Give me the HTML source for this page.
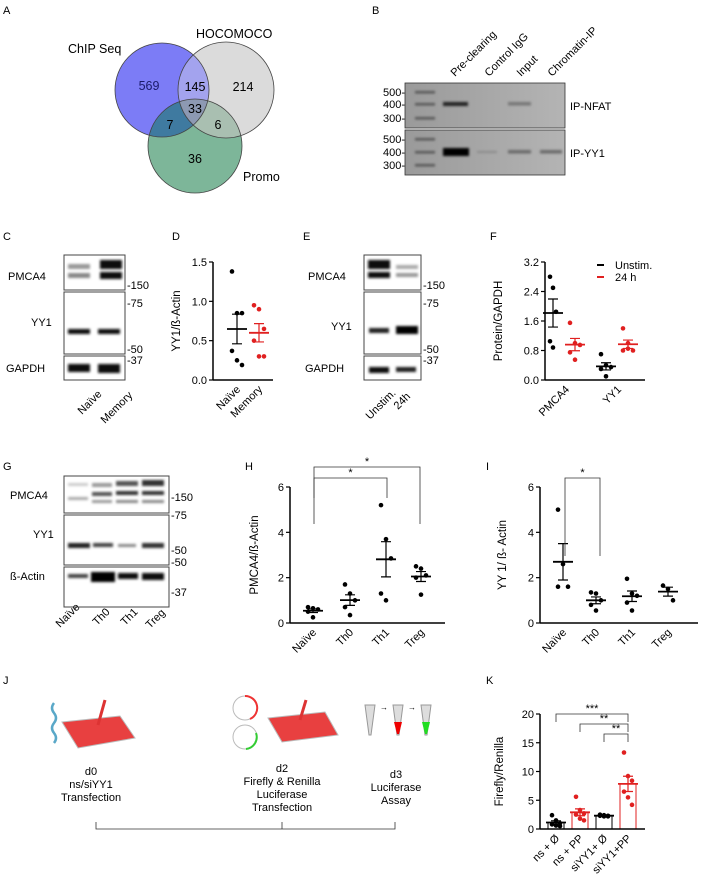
<!DOCTYPE html>
<html><head><meta charset="utf-8"><style>
body{margin:0;background:#fff}
svg{display:block;font-family:"Liberation Sans",sans-serif}
</style></head><body>
<svg id="fig" width="701" height="886" viewBox="0 0 701 886" xmlns="http://www.w3.org/2000/svg">
<defs>
<linearGradient id="gel" x1="0" x2="1"><stop offset="0" stop-color="#9a9a9a"/><stop offset="1" stop-color="#b4b4b4"/></linearGradient>
<filter id="blur1"><feGaussianBlur stdDeviation="1.2"/></filter>
<filter id="blur2"><feGaussianBlur stdDeviation="2"/></filter>
</defs>
<g font-size="11" fill="#000">
<!-- Panel letters -->
<text x="3" y="14">A</text>
<text x="372" y="14">B</text>
<text x="3" y="240">C</text>
<text x="172" y="240">D</text>
<text x="303" y="240">E</text>
<text x="490" y="240">F</text>
<text x="3" y="470">G</text>
<text x="245" y="470">H</text>
<text x="486" y="470">I</text>
<text x="3" y="684">J</text>
<text x="486" y="684">K</text>
</g>

<!-- Panel A Venn -->
<g>
<circle cx="162" cy="90" r="47" fill="#7c7cf6"/>
<circle cx="226" cy="90" r="48" fill="#d9d9d9" fill-opacity="0.95"/>
<g clip-path="url(#cA)"></g>
<circle cx="195" cy="146" r="47" fill="#6fae8e" fill-opacity="0.9"/>
<clipPath id="cpChip"><circle cx="162" cy="90" r="47"/></clipPath>
<clipPath id="cpHoc"><circle cx="226" cy="90" r="48"/></clipPath>
<circle cx="226" cy="90" r="48" fill="#a3a3ee" clip-path="url(#cpChip)"/>
<circle cx="195" cy="146" r="47" fill="#3f7aa0" clip-path="url(#cpChip)"/>
<circle cx="195" cy="146" r="47" fill="#a9bfb1" clip-path="url(#cpHoc)"/>
<g clip-path="url(#cpChip)"><circle cx="195" cy="146" r="47" fill="#8d99b3" clip-path="url(#cpHoc)"/></g>
<circle cx="162" cy="90" r="47" fill="none" stroke="#444" stroke-width="0.8"/>
<circle cx="226" cy="90" r="48" fill="none" stroke="#444" stroke-width="0.8"/>
<circle cx="195" cy="146" r="47" fill="none" stroke="#444" stroke-width="0.8"/>
<g font-size="12.5" text-anchor="middle">
<text x="149" y="90" fill="#1a1a6a">569</text><text x="195" y="91">145</text><text x="243" y="91">214</text>
<text x="195" y="113">33</text><text x="170" y="129">7</text><text x="218" y="129">6</text><text x="195" y="163">36</text>
</g>
<g font-size="12.5">
<text x="68" y="53">ChIP Seq</text>
<text x="196" y="38">HOCOMOCO</text>
<text x="243" y="181">Promo</text>
</g>
</g>

<!-- Panel B gel -->
<g>
<rect x="405" y="83" width="160" height="45" fill="url(#gel)" stroke="#333" stroke-width="0.8"/>
<rect x="405" y="130" width="160" height="45" fill="url(#gel)" stroke="#333" stroke-width="0.8"/>
<g fill="#555" filter="url(#blur1)">
<rect x="415" y="91" width="20" height="2.5"/><rect x="415" y="103" width="20" height="2.5"/><rect x="415" y="117" width="20" height="2.5"/>
<rect x="415" y="138" width="20" height="2.5"/><rect x="415" y="151" width="20" height="2.5"/><rect x="415" y="164" width="20" height="2.5"/>
<rect x="443" y="102" width="25" height="4" fill="#222"/><rect x="508" y="102" width="23" height="3.5" fill="#777"/>
<rect x="443" y="148" width="26" height="8" fill="#000"/><rect x="477" y="151" width="20" height="2" fill="#8a8a8a"/>
<rect x="508" y="150" width="23" height="3.5" fill="#6a6a6a"/><rect x="540" y="150" width="22" height="3.5" fill="#6a6a6a"/>
</g>
<g font-size="11" text-anchor="end">
<text x="405" y="96">500-</text><text x="405" y="108">400-</text><text x="405" y="122">300-</text>
<text x="405" y="143">500-</text><text x="405" y="156">400-</text><text x="405" y="169">300-</text>
</g>
<g font-size="11">
<text x="570" y="110">IP-NFAT</text><text x="570" y="157">IP-YY1</text>
<text transform="translate(455,77) rotate(-45)">Pre-clearing</text>
<text transform="translate(489,77) rotate(-45)">Control IgG</text>
<text transform="translate(521,77) rotate(-45)">Input</text>
<text transform="translate(552,77) rotate(-45)">Chromatin-IP</text>
</g>
</g>

<!-- Blots C, E, G -->
<g font-size="11">
<!-- C -->
<rect x="64" y="255" width="61" height="35" fill="#fff" stroke="#444"/>
<rect x="64" y="292" width="61" height="62" fill="#fff" stroke="#444"/>
<rect x="64" y="356" width="61" height="24" fill="#fff" stroke="#444"/>
<g filter="url(#blur1)">
<rect x="68" y="264" width="22" height="5" fill="#999"/><rect x="68" y="273" width="22" height="5" fill="#888"/>
<rect x="100" y="260" width="22" height="9" fill="#111"/><rect x="100" y="272" width="22" height="7" fill="#111"/>
<rect x="68" y="329" width="22" height="5" fill="#111"/><rect x="98" y="329" width="22" height="5" fill="#111"/>
<rect x="68" y="364" width="22" height="8" fill="#111"/><rect x="98" y="364" width="22" height="9" fill="#111"/>
</g>
<text x="8" y="280">PMCA4</text><text x="31" y="326">YY1</text><text x="6" y="372">GAPDH</text>
<text x="127" y="289">-150</text><text x="127" y="307">-75</text><text x="127" y="353">-50</text><text x="127" y="364">-37</text>
<text transform="translate(82,415) rotate(-45)">Naïve</text><text transform="translate(105,424) rotate(-45)">Memory</text>
<!-- E -->
<rect x="364" y="255" width="57" height="35" fill="#fff" stroke="#444"/>
<rect x="364" y="292" width="57" height="62" fill="#fff" stroke="#444"/>
<rect x="364" y="356" width="57" height="24" fill="#fff" stroke="#444"/>
<g filter="url(#blur1)">
<rect x="368" y="260" width="22" height="9" fill="#111"/><rect x="368" y="272" width="22" height="6" fill="#111"/>
<rect x="396" y="265" width="22" height="4" fill="#aaa"/><rect x="396" y="273" width="22" height="4" fill="#999"/>
<rect x="369" y="328" width="20" height="5" fill="#222"/><rect x="396" y="326" width="22" height="8" fill="#000"/>
<rect x="369" y="367" width="20" height="6" fill="#111"/><rect x="396" y="367" width="20" height="5" fill="#222"/>
</g>
<text x="308" y="280">PMCA4</text><text x="331" y="330">YY1</text><text x="305" y="372">GAPDH</text>
<text x="423" y="289">-150</text><text x="423" y="307">-75</text><text x="423" y="353">-50</text><text x="423" y="364">-37</text>
<text transform="translate(370,420) rotate(-45)">Unstim.</text><text transform="translate(398,410) rotate(-45)">24h</text>
<!-- G -->
<rect x="64" y="476" width="105" height="37" fill="#fff" stroke="#444"/>
<rect x="64" y="515" width="105" height="50" fill="#fff" stroke="#444"/>
<rect x="64" y="567" width="105" height="40" fill="#fff" stroke="#444"/>
<g filter="url(#blur1)">
<rect x="68" y="483" width="20" height="3" fill="#ccc"/><rect x="68" y="497" width="20" height="3" fill="#aaa"/>
<rect x="92" y="483" width="20" height="4" fill="#999"/><rect x="92" y="492" width="20" height="4" fill="#555"/><rect x="92" y="500" width="20" height="3" fill="#999"/>
<rect x="116" y="481" width="22" height="5" fill="#555"/><rect x="116" y="491" width="22" height="4" fill="#333"/><rect x="116" y="500" width="22" height="3" fill="#888"/>
<rect x="142" y="480" width="22" height="6" fill="#333"/><rect x="142" y="491" width="22" height="4" fill="#333"/><rect x="142" y="500" width="22" height="3" fill="#888"/>
<rect x="68" y="543" width="22" height="5" fill="#222"/><rect x="93" y="543" width="20" height="4" fill="#444"/>
<rect x="118" y="544" width="18" height="3" fill="#888"/><rect x="142" y="543" width="22" height="5" fill="#333"/>
<rect x="68" y="574" width="20" height="4" fill="#444"/><rect x="91" y="572" width="24" height="10" fill="#000"/>
<rect x="118" y="573" width="20" height="6" fill="#111"/><rect x="142" y="573" width="22" height="7" fill="#111"/>
</g>
<text x="10" y="499">PMCA4</text><text x="33" y="538">YY1</text><text x="10" y="580">ß-Actin</text>
<text x="171" y="501">-150</text><text x="171" y="519">-75</text><text x="171" y="554">-50</text><text x="171" y="566">-50</text><text x="171" y="596">-37</text>
<text transform="translate(60,628) rotate(-45)">Naïve</text><text transform="translate(97,626) rotate(-45)">Th0</text>
<text transform="translate(125,626) rotate(-45)">Th1</text><text transform="translate(150,629) rotate(-45)">Treg</text>
</g>

<!-- Panel J schematic -->
<g font-size="11" text-anchor="middle">
<path d="M54,703 q-4,5 0,10 t0,10 t0,10 t0,10" fill="none" stroke="#5aa8c8" stroke-width="2.5"/>
<polygon points="62,722 120,716 135,738 78,748" fill="#e84040" stroke="#bbb"/>
<line x1="105" y1="700" x2="98" y2="725" stroke="#d33" stroke-width="3"/>
<circle cx="245" cy="708" r="12" fill="none" stroke="#bbb" stroke-width="1"/>
<path d="M245,696 A12,12 0 0 1 250,719" fill="none" stroke="#e33" stroke-width="2"/>
<circle cx="245" cy="737" r="12" fill="none" stroke="#bbb" stroke-width="1"/>
<path d="M256,733 A12,12 0 0 1 246,749" fill="none" stroke="#3c3" stroke-width="2"/>
<polygon points="268,718 325,712 338,735 282,742" fill="#e84040" stroke="#bbb"/>
<line x1="306" y1="700" x2="300" y2="720" stroke="#d33" stroke-width="3"/>
<path d="M365,705 h10 l-4,30 h-2 z" fill="#ddd" stroke="#999"/>
<path d="M393,705 h10 l-4,30 h-2 z" fill="#ddd" stroke="#999"/><path d="M394,722 h8 l-3,12 h-2z" fill="#e00"/>
<path d="M421,705 h10 l-4,30 h-2 z" fill="#ddd" stroke="#999"/><path d="M422,722 h8 l-3,12 h-2z" fill="#2d2"/>
<text x="384" y="710" font-size="8">→</text><text x="412" y="710" font-size="8">→</text>
<text x="91" y="775">d0</text><text x="91" y="788">ns/siYY1</text><text x="91" y="801">Transfection</text>
<text x="282" y="772">d2</text><text x="282" y="785">Firefly &amp; Renilla</text><text x="282" y="798">Luciferase</text><text x="282" y="811">Transfection</text>
<text x="396" y="778">d3</text><text x="396" y="791">Luciferase</text><text x="396" y="804">Assay</text>
<path d="M96,822 V829 H395 V822 M282,822 V829" fill="none" stroke="#333" stroke-width="0.8"/>
</g>

<g id="charts"></g>
</svg>
<script>
// Panel D data
const dCats = ["Naïve", "Memory"];
const dNaive = [1.38, 0.85, 0.85, 0.37, 0.25, 0.19];
const dMemory = [0.95, 0.9, 0.65, 0.5, 0.3, 0.3];
const dTicks = [0.0, 0.5, 1.0, 1.5];
// Panel F data
const fCats = ["PMCA4", "YY1"];
const fUnstimPMCA4 = [2.8, 2.5, 1.85, 1.05, 0.88];
const f24hPMCA4 = [1.55, 1.0, 0.95, 0.75, 0.55];
const fUnstimYY1 = [0.7, 0.4, 0.35, 0.3, 0.1];
const f24hYY1 = [1.4, 1.0, 0.8, 0.8, 0.85];
const fTicks = [0.0, 0.8, 1.6, 2.4, 3.2];
// Panel H data
const hCats = ["Naïve", "Th0", "Th1", "Treg"];
const hVals = [[0.7, 0.65, 0.6, 0.5, 0.25], [1.7, 1.3, 1.0, 0.7, 0.35], [5.2, 3.7, 2.85, 1.3, 1.0], [2.5, 2.4, 2.1, 2.0, 1.25]];
const hTicks = [0, 2, 4, 6];
// Panel I data
const iCats = ["Naïve", "Th0", "Th1", "Treg"];
const iVals = [[5.0, 2.6, 1.6, 1.6], [1.35, 1.3, 1.0, 0.8, 0.55], [1.95, 1.3, 1.2, 0.9, 0.55], [1.65, 1.5, 1.0]];
const iTicks = [0, 2, 4, 6];
// Panel K data
const kCats = ["ns + Ø", "ns + PP", "siYY1+ Ø", "siYY1+PP"];
const kVals = [[2.4, 1.5, 1.0, 0.8, 0.6, 0.5], [5.6, 3.3, 2.7, 2.5, 1.8, 1.5], [2.5, 2.4, 2.3, 2.3, 2.2, 2.2], [13.3, 9.2, 8.4, 6.5, 5.5, 4.2]];
const kTicks = [0, 5, 10, 15, 20];

const NS = "http://www.w3.org/2000/svg";
const root = document.getElementById("charts");
function el(tag, attrs, parent, txt) {
  const e = document.createElementNS(NS, tag);
  for (const k in attrs) e.setAttribute(k, attrs[k]);
  if (txt !== undefined) e.textContent = txt;
  (parent || root).appendChild(e);
  return e;
}
function mean(a) { return a.reduce((s, v) => s + v, 0) / a.length; }
function sem(a) { const m = mean(a); return Math.sqrt(a.reduce((s, v) => s + (v - m) * (v - m), 0) / (a.length - 1)) / Math.sqrt(a.length); }
function scale(d0, d1, r0, r1) { return v => r0 + (v - d0) / (d1 - d0) * (r1 - r0); }

function axes(g, x0, x1, yTop, yBot, y, ticks, fmt, title, titleX) {
  el("line", { x1: x0, y1: yTop, x2: x0, y2: yBot, stroke: "#000", "stroke-width": 1.5 }, g);
  el("line", { x1: x0, y1: yBot, x2: x1, y2: yBot, stroke: "#000", "stroke-width": 1.5 }, g);
  ticks.forEach(t => {
    el("line", { x1: x0 - 4, y1: y(t), x2: x0, y2: y(t), stroke: "#000", "stroke-width": 1.2 }, g);
    const tl = el("text", { x: x0 - 6, y: y(t) + 4, "text-anchor": "end", "font-size": 11 }, g, fmt(t));
    
    
  });
  const tt = el("text", { transform: `translate(${titleX},${(yTop + yBot) / 2}) rotate(-90)`, "text-anchor": "middle", "font-size": 11.5 }, g, title);
  
  
}
function scatter(g, x, vals, y, color, spread) {
  vals.forEach((v, i) => {
    const off = (i % 3 - 1) * spread;
    const c = el("circle", { cx: x + off, cy: y(v), r: 2.3, fill: color }, g);
    
    
  });
  const m = mean(vals), s = sem(vals);
  const mb = el("line", { x1: x - 10, x2: x + 10, y1: y(m), y2: y(m), stroke: color, "stroke-width": 1.8 }, g);
  
  
  el("path", { d: `M${x - 5},${y(m + s)}H${x + 5}M${x},${y(m + s)}V${y(m - s)}M${x - 5},${y(m - s)}H${x + 5}`, stroke: color, fill: "none", "stroke-width": 1.2 }, g);
}
function xlabels(g, xs, cats, yBot) {
  cats.forEach((c, i) => {
    const t = el("text", { transform: `translate(${xs[i] + 4},${yBot + 10}) rotate(-45)`, "text-anchor": "end", "font-size": 11 }, g, c);
    
    
  });
}
function bracket(g, xa, xb, yy, drop, stars) {
  el("path", { d: `M${xa},${yy + drop}V${yy}H${xb}V${yy + drop}`, stroke: "#333", fill: "none", "stroke-width": 0.8 }, g);
  el("text", { x: (xa + xb) / 2, y: yy - 2, "text-anchor": "middle", "font-size": 11 }, g, stars);
}

// D
{
  const g = el("g", {});  
  const y = scale(0, 1.5, 380, 262);
  axes(g, 213, 273, 262, 380, y, dTicks, t => t.toFixed(1), "YY1/ß-Actin", 180);
  const xs = [237, 259];
  scatter(g, xs[0], dNaive, y, "#000", 5);
  scatter(g, xs[1], dMemory, y, "#e02020", 5);
  xlabels(g, xs, dCats, 380);
}
// F
{
  const g = el("g", {});  
  const y = scale(0, 3.2, 380, 262);
  axes(g, 545, 645, 262, 380, y, fTicks, t => t.toFixed(1), "Protein/GAPDH", 502);
  scatter(g, 553, fUnstimPMCA4, y, "#000", 3);
  scatter(g, 575, f24hPMCA4, y, "#e02020", 5);
  scatter(g, 606, fUnstimYY1, y, "#000", 5);
  scatter(g, 628, f24hYY1, y, "#e02020", 5);
  xlabels(g, [566, 618], fCats, 380);
  el("line", { x1: 597, x2: 604, y1: 265, y2: 265, stroke: "#000", "stroke-width": 2 }, g);
  el("line", { x1: 597, x2: 604, y1: 277, y2: 277, stroke: "#e02020", "stroke-width": 2 }, g);
  const l1 = el("text", { x: 615, y: 269, "font-size": 11 }, g, "Unstim.");
   
  const l2 = el("text", { x: 615, y: 281, "font-size": 11 }, g, "24 h");
   
}
// H
{
  const g = el("g", {});  
  const y = scale(0, 6, 623, 487);
  axes(g, 290, 445, 487, 623, y, hTicks, t => String(t), "PMCA4/ß-Actin", 258);
  const xs = [313, 350, 386, 421];
  hVals.forEach((v, i) => scatter(g, xs[i], v, y, "#000", 5));
  xlabels(g, xs, hCats, 623);
  bracket(g, 314, 420, 467, 57, "*");
  bracket(g, 314, 387, 478, 20, "*");
}
// I
{
  const g = el("g", {});  
  const y = scale(0, 6, 623, 487);
  axes(g, 540, 698, 487, 623, y, iTicks, t => String(t), "YY 1/ ß- Actin", 506);
  const xs = [563, 596, 632, 668];
  iVals.forEach((v, i) => scatter(g, xs[i], v, y, "#000", 5));
  xlabels(g, xs, iCats, 623);
  bracket(g, 565, 600, 478, 78, "*");
}
// K
{
  const g = el("g", {});  
  const y = scale(0, 20, 829, 714);
  const xs = [556, 580, 604, 628];
  const cols = ["#000", "#e02020", "#000", "#e02020"];
  kVals.forEach((v, i) => {
    const m = mean(v);
    const b = el("rect", { x: xs[i] - 8, y: y(m), width: 16, height: 829 - y(m), fill: "none", stroke: cols[i], "stroke-width": 1 }, g);
    
    
    scatter(g, xs[i], v, y, cols[i], 4);
  });
  axes(g, 540, 645, 714, 829, y, kTicks, t => String(t), "Firefly/Renilla", 503);
  xlabels(g, xs, kCats, 829);
  bracket(g, 556, 628, 714, 8, "***");
  bracket(g, 580, 628, 724, 8, "**");
  bracket(g, 604, 628, 734, 8, "**");
}
</script>
</body></html>
